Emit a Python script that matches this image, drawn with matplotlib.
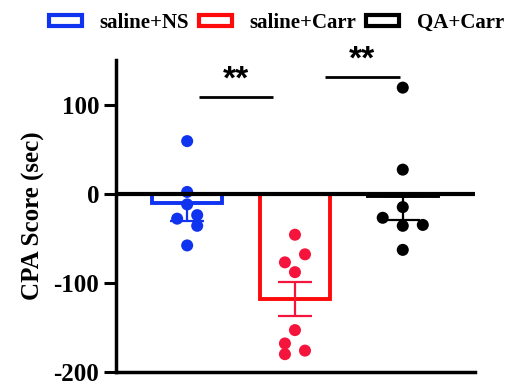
import numpy as np
import matplotlib.pyplot as plt
from matplotlib.patches import Patch

plt.rcParams['font.family'] = ['Liberation Serif', 'DejaVu Serif']
plt.rcParams['font.weight'] = 'bold'
plt.rcParams['axes.unicode_minus'] = False

groups = ['saline+NS', 'saline+Carr', 'QA+Carr']
bar_colors = ['#1033f0', '#ff0a0a', '#000000']
dot_colors = ['#1033f0', '#f5143c', '#000000']

# individual animals (sec)
saline_ns = [59, 2, -12, -28, -24, -36, -58]
saline_carr = [-46, -68, -77, -88, -153, -168, -180, -176]
qa_carr = [119, 27, -15, -27, -36, -35, -63]
# horizontal spread of the dots (in bar-units)
ns_jit = [0, 0, 0, -1, 1, 1, 0]
carr_jit = [0, 1, -1, 0, 0, -1, -1, 1]
qa_jit = [0, 0, 0, -2, 0, 2, 0]

means = [-10, -118, -3]
sems = [21, 19, 26]
err_dir = ['lower', 'both', 'lower']

# significance brackets: (x start, x end, height)
sig = [(0.11, 0.80, 108, '**'), (1.28, 1.97, 131, '**')]

fig = plt.figure(figsize=(5.12, 3.84), dpi=100)
ax = fig.add_axes([0.2266, 0.03125, 0.7011, 0.8125])

x = np.arange(len(groups))
ax.bar(x, means, width=0.65, facecolor='white', edgecolor=bar_colors, linewidth=2.8, zorder=2)

pts = [saline_ns, saline_carr, qa_carr]
jits = [ns_jit, carr_jit, qa_jit]
for i in range(len(groups)):
    lo = [sems[i]]
    hi = [sems[i] if err_dir[i] == 'both' else 0]
    ax.errorbar(x[i], means[i], yerr=[lo, hi], fmt='none', ecolor=dot_colors[i],
                elinewidth=1.6, capsize=12.5, capthick=1.6, zorder=3)
    xs = x[i] + 0.093 * np.array(jits[i])
    ax.scatter(xs, pts[i], s=75, color=dot_colors[i], edgecolor='none', zorder=4)

ax.axhline(0, color='black', linewidth=3, zorder=5)

for x0, x1, h, txt in sig:
    ax.plot([x0, x1], [h, h], color='black', linewidth=2, solid_capstyle='butt')
    ax.text((x0 + x1) / 2, h + 2, txt, ha='center', va='bottom', fontsize=24,
            fontweight='heavy', family='Liberation Sans', clip_on=False)

ax.set_xlim(-0.66, 2.67)
ax.set_ylim(-200, 150)
ax.set_yticks([-200, -100, 0, 100])
ax.set_xticks([])
ax.tick_params(axis='y', length=9, width=2.2, labelsize=18, pad=3)
for s in ['top', 'right']:
    ax.spines[s].set_visible(False)
for s in ['left', 'bottom']:
    ax.spines[s].set_linewidth(2.5)
ax.set_ylabel('CPA Score (sec)', fontsize=18, fontweight='bold', labelpad=6)

handles = [Patch(facecolor='white', edgecolor=c, linewidth=3) for c in bar_colors]
fig.legend(handles, groups, loc='upper center', bbox_to_anchor=(0.54, 1.015), ncol=3,
           frameon=False, prop={'size': 15, 'weight': 'bold'}, handlelength=1.6,
           handleheight=0.45, handletextpad=0.85, columnspacing=0.45)

fig.savefig('out.png', dpi=100)
